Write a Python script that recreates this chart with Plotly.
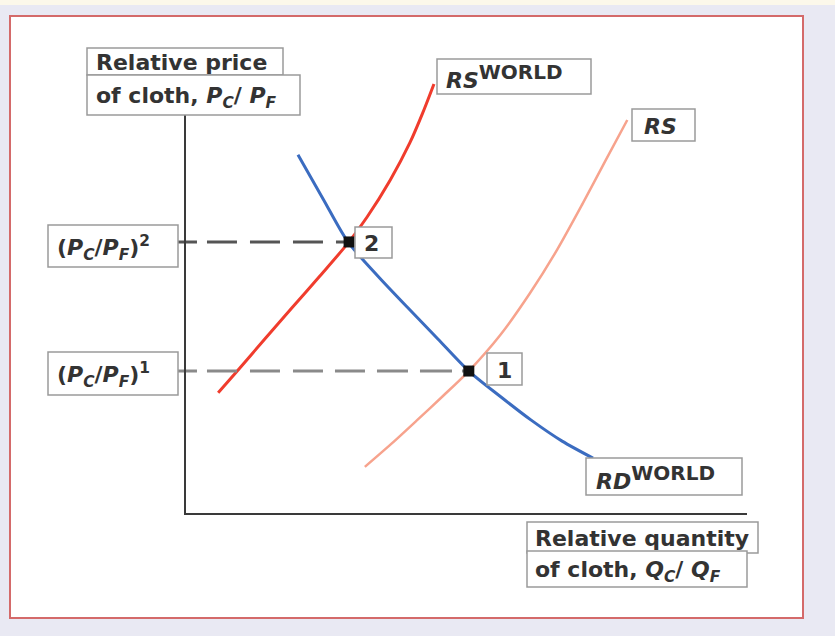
import plotly.graph_objects as go

# ---------------- data (relative quantity / relative price units) ----------------
rs_world_x = [0.59, 0.93, 1.42, 1.90, 2.40, 2.90, 3.24, 3.65, 4.00, 4.23, 4.43]
rs_world_y = [3.06, 3.61, 4.42, 5.20, 6.01, 6.84, 7.50, 8.43, 9.37, 10.13, 10.86]

rs_x = [3.20, 3.67, 4.13, 4.59, 5.05, 5.61, 6.14, 6.62, 7.08, 7.47, 7.87]
rs_y = [1.19, 1.77, 2.37, 2.98, 3.61, 4.52, 5.58, 6.67, 7.85, 8.89, 9.95]

rd_world_x = [2.01, 2.46, 2.90, 3.43, 3.97, 4.50, 5.05, 5.60, 6.16, 6.71, 7.26]
rd_world_y = [9.07, 7.95, 6.87, 6.01, 5.20, 4.42, 3.61, 2.98, 2.37, 1.84, 1.41]

eq_x = [5.05, 2.92]
eq_y = [3.61, 6.87]
eq_labels = ["1", "2"]
guide_start_x = -0.125

# ---------------- layout geometry (pixels) ----------------
W, H = 835, 636
PL, PR, PT, PB = 170, 760, 50, 522      # plot area
X0PX, XUNIT = 185, 56.2                 # x=0 pixel, pixels per unit
Y0PX, YUNIT = 514, 39.6                 # y=0 pixel, pixels per unit


def fx(px):
    return (px - PL) / (PR - PL)


def fy(py):
    return (PB - py) / (PB - PT)


FONT = "DejaVu Sans"
TXT = "#333333"
BOX = "#9a9a9a"
SUP = "<span style='font-size:20px'>WORLD</span>"

fig = go.Figure()

fig.add_trace(go.Scatter(x=rs_world_x, y=rs_world_y, mode="lines",
                         line=dict(color="#f03c2d", width=3, shape="spline", smoothing=0.8),
                         hoverinfo="skip"))
fig.add_trace(go.Scatter(x=rs_x, y=rs_y, mode="lines",
                         line=dict(color="#f7a38d", width=2.5, shape="spline", smoothing=0.8),
                         hoverinfo="skip"))
fig.add_trace(go.Scatter(x=rd_world_x, y=rd_world_y, mode="lines",
                         line=dict(color="#3b6cc0", width=3, shape="spline", smoothing=0.8),
                         hoverinfo="skip"))

# dashed guides
fig.add_trace(go.Scatter(x=[guide_start_x, eq_x[1]], y=[eq_y[1], eq_y[1]], mode="lines",
                         line=dict(color="#555555", width=3,
                                   dash="19px,10px,30px,13px,30px,13px,30px,13px,30px,13px"),
                         hoverinfo="skip"))
fig.add_trace(go.Scatter(x=[guide_start_x, eq_x[0]], y=[eq_y[0], eq_y[0]], mode="lines",
                         line=dict(color="#8a8a8a", width=3,
                                   dash="19px,10px,30px,13px,30px,13px,30px,12px,30px,12px,31px,12px,32px,10px,30px"),
                         hoverinfo="skip"))

fig.add_trace(go.Scatter(x=eq_x, y=eq_y, mode="markers",
                         marker=dict(symbol="square", size=11, color="#111111"),
                         hoverinfo="skip"))

shapes = []
# background strip & panel
shapes.append(dict(type="rect", xref="paper", yref="paper", x0=fx(0), x1=fx(835), y0=fy(5), y1=fy(0),
                   fillcolor="#fcf8ea", line=dict(width=0), layer="below"))
shapes.append(dict(type="rect", xref="paper", yref="paper", x0=fx(10), x1=fx(803), y0=fy(618), y1=fy(16),
                   fillcolor="white", line=dict(color="#d46a6a", width=2), layer="below"))
# axes
shapes.append(dict(type="line", xref="paper", yref="paper", x0=fx(185), x1=fx(185), y0=fy(515), y1=fy(115),
                   line=dict(color="#3a3a3a", width=2), layer="above"))
shapes.append(dict(type="line", xref="paper", yref="paper", x0=fx(184), x1=fx(747), y0=fy(514), y1=fy(514),
                   line=dict(color="#3a3a3a", width=2), layer="above"))

annotations = []


def label(l, r, t, b, text, tx, ty, size=22):
    shapes.append(dict(type="rect", xref="paper", yref="paper", x0=fx(l), x1=fx(r), y0=fy(b), y1=fy(t),
                       fillcolor="white", line=dict(color=BOX, width=1.5), layer="above"))
    annotations.append(dict(xref="paper", yref="paper", x=fx(tx), y=fy(ty), xanchor="left", yanchor="middle",
                            text="<b>" + text + "</b>", showarrow=False,
                            font=dict(family=FONT, size=size, color=TXT)))


label(87, 283, 48, 75, "Relative price", 94, 62)
label(87, 300, 75, 115, "of cloth, <i>P</i><sub><i>C</i></sub>/ <i>P</i><sub><i>F</i></sub>", 94, 98)
label(48, 178, 225, 267, "(<i>P</i><sub><i>C</i></sub>/<i>P</i><sub><i>F</i></sub>)<sup>2</sup>", 55, 248)
label(48, 178, 352, 395, "(<i>P</i><sub><i>C</i></sub>/<i>P</i><sub><i>F</i></sub>)<sup>1</sup>", 55, 375)
label(355, 392, 227, 258, eq_labels[1], 362, 243)
label(487, 522, 353, 385, eq_labels[0], 495, 370)
label(437, 591, 59, 94, "<i>RS</i><sup>" + SUP + "</sup>", 444, 77)
label(632, 695, 109, 141, "<i>RS</i>", 642, 126)
label(586, 742, 458, 495, "<i>RD</i><sup>" + SUP + "</sup>", 594, 477)
label(527, 758, 522, 553, "Relative quantity", 533, 538)
label(527, 747, 551, 587, "of cloth, <i>Q</i><sub><i>C</i></sub>/ <i>Q</i><sub><i>F</i></sub>", 533, 571)

fig.update_layout(
    width=W, height=H,
    margin=dict(l=PL, r=W - PR, t=PT, b=H - PB, pad=0),
    paper_bgcolor="#e9e9f3",
    plot_bgcolor="rgba(0,0,0,0)",
    showlegend=False,
    shapes=shapes,
    annotations=annotations,
    xaxis=dict(range=[(PL - X0PX) / XUNIT, (PR - X0PX) / XUNIT], showgrid=False, zeroline=False,
               showticklabels=False, ticks="", showline=False, fixedrange=True),
    yaxis=dict(range=[(Y0PX - PB) / YUNIT, (Y0PX - PT) / YUNIT], showgrid=False, zeroline=False,
               showticklabels=False, ticks="", showline=False, fixedrange=True),
)

fig.write_html("out.html", config={"displayModeBar": False},
               post_script="document.body.style.margin='0px';document.body.style.background='#e9e9f3';")
